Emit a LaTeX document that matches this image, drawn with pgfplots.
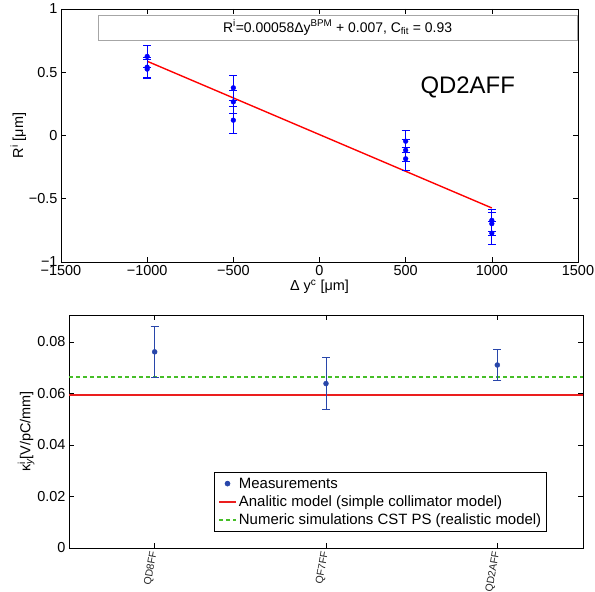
\documentclass[border=0pt]{standalone}
\usepackage{fontspec}
\setmainfont{Liberation Sans}
\usepackage{pgfplots}
\pgfplotsset{compat=1.18}
\usepackage{pgfplotstable}

\definecolor{measblue}{RGB}{40,70,170}
\definecolor{modred}{RGB}{235,30,30}
\definecolor{simgreen}{RGB}{70,190,40}

% top panel: R^i vs beam offset, three shots per offset
\pgfplotstableread{
x y e
-1000 0.625 0.088
-1000 0.540 0.080
-1000 0.525 0.075
-500 0.377 0.100
-500 0.266 0.090
-500 0.121 0.105
500 -0.045 0.087
500 -0.116 0.088
500 -0.184 0.090
1000 -0.671 0.086
1000 -0.697 0.090
1000 -0.772 0.090
}\topdata

% bottom panel: kick factor per quadrupole
\pgfplotstableread{
x y e
1 0.0761 0.0100
2 0.0638 0.0101
3 0.0710 0.0061
}\kickdata

% model lines, drawn across the full axis width
\pgfplotstableread{
x y
0.5 0.0593
3.5 0.0593
}\analytic
\pgfplotstableread{
x y
0.5 0.0663
3.5 0.0663
}\numeric

\begin{document}
\begin{tikzpicture}
\path[use as bounding box] (0,0) rectangle (595bp,592bp);

\pgfplotsset{
  every axis/.append style={
    scale only axis,
    axis line style={black, line width=0.8pt},
    tick align=inside,
    major tick length=5bp,
    tick style={black, line width=0.6pt},
    tick label style={font=\fontsize{14.5}{16}\selectfont},
    label style={font=\fontsize{14.5}{16}\selectfont},
    /pgf/number format/assume math mode=true,
  },
}

\begin{axis}[
  at={(61bp,330bp)}, anchor=south west,
  width=517bp, height=253bp,
  xmin=-1500, xmax=1500, ymin=-1, ymax=1,
  xtick={-1500,-1000,...,1500},
  xticklabels={−1500,−1000,−500,0,500,1000,1500},
  ytick={-1,-0.5,0,0.5,1},
  yticklabels={−1,−0.5,0,0.5,1},
  xlabel={Δ y\textsuperscript{c} [μm]},
  ylabel={R\textsuperscript{i} [μm]},
  xlabel style={yshift=3bp},
  ylabel style={yshift=-4bp},
]
  % linear fit
  \addplot[draw=red, line width=1.4pt] coordinates {(-1000,0.587) (1000,-0.573)};
  \addplot[only marks, blue, mark=*, mark size=2.4pt,
    error bars/.cd, y dir=both, y explicit,
    error bar style={blue, line width=1pt},
    error mark options={rotate=90, mark size=4bp, blue, line width=1pt}]
    table[x=x, y=y, y error=e] {\topdata};
  \draw[gray!70, line width=0.6pt] (axis cs:-1285,0.755) rectangle (axis cs:1494,0.953);
  \node[font=\fontsize{14}{16}\selectfont] at (axis cs:105,0.855)
    {R\textsuperscript{i}=0.00058Δy\textsuperscript{BPM} + 0.007, C\textsubscript{fit} = 0.93};
  \node[font=\fontsize{24}{26}\selectfont] at (axis cs:860,0.38) {QD2AFF};
\end{axis}

\begin{axis}[
  at={(69bp,44bp)}, anchor=south west,
  width=514bp, height=233bp,
  xmin=0.5, xmax=3.5, ymin=0, ymax=0.0904,
  scaled y ticks=false,
  xtick={1,2,3},
  xticklabels={QD8FF,QF7FF,QD2AFF},
  xticklabel style={font=\fontsize{10.5}{12}\selectfont, rotate=80, anchor=east, text=black!85},
  ytick={0,0.02,0.04,0.06,0.08},
  yticklabels={0,0.02,0.04,0.06,0.08},
  ylabel={κ\rlap{\textsuperscript{i}}\textsubscript{\itshape y}[V/pC/mm]},
  ylabel style={yshift=-4bp},
  legend style={font=\fontsize{15}{17}\selectfont, draw=black, line width=0.6pt,
    fill=white, at={(0.93,0.069)}, anchor=south east,
    cells={anchor=west}, row sep=2bp, inner sep=3.5bp},
]
  \addplot[draw=modred, line width=1.5pt, forget plot] table[x=x, y=y] {\analytic};
  \addplot[draw=simgreen, line width=1.5pt, dash pattern=on 4bp off 3bp, forget plot] table[x=x, y=y] {\numeric};
  \addplot[only marks, measblue, mark=*, mark size=2.5pt,
    error bars/.cd, y dir=both, y explicit,
    error bar style={measblue, line width=0.7pt},
    error mark options={rotate=90, mark size=4bp, measblue, line width=0.7pt}]
    table[x=x, y=y, y error=e] {\kickdata};
  \addlegendentry{Measurements}
  \addlegendimage{draw=modred, line width=1.9pt}
  \addlegendentry{Analitic model (simple collimator model)}
  \addlegendimage{draw=simgreen, line width=1.5pt, dash pattern=on 4bp off 3bp}
  \addlegendentry{Numeric simulations CST PS (realistic model)}
\end{axis}
\end{tikzpicture}
\end{document}
